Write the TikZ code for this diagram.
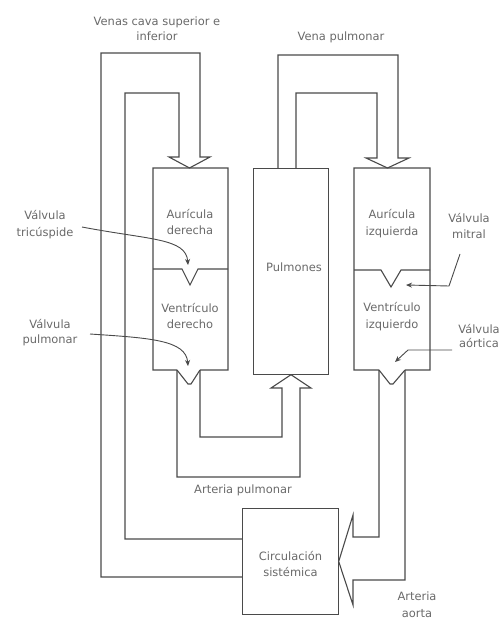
\documentclass[tikz,border=0pt]{standalone}
\usepackage{fontspec}
\setmainfont{DejaVu Sans}
\usetikzlibrary{arrows.meta}
\definecolor{linec}{HTML}{4A4A4A}
\definecolor{txtc}{HTML}{6A6A6A}
\begin{document}
\begin{tikzpicture}[x=1bp,y=-1bp,
  vessel/.style={draw=linec, line width=1.1bp, line join=miter},
  lbl/.style={text=txtc, font=\fontsize{11.5}{17}\selectfont, align=center, inner sep=0pt},
  ptr/.style={draw=linec, line width=0.9bp, -{Stealth[length=6bp,width=5bp]}},
  region/.style={inner sep=0pt, outer sep=0pt, rectangle}
]
\useasboundingbox[fill=white] (0,0) rectangle (501,620);

% ---------- regions (boxes) ----------
\node[region, minimum width=75bp, minimum height=202bp] (rh) at (190.5,269) {};
\node[region, minimum width=76bp, minimum height=202bp] (lh) at (392,269) {};
\node[region, minimum width=75.4bp, minimum height=206.4bp] (pulm) at (291,271.5) {};
\node[region, minimum width=96.4bp, minimum height=106.4bp] (circ) at (290.5,561.5) {};
\draw[vessel] (pulm.south) -- (pulm.south west) -- (pulm.north west) -- (pulm.north east) -- (pulm.south east) -- (pulm.south);
\draw[vessel] (circ.east) -- (circ.north east) -- (circ.north west) -- (circ.south west) -- (circ.south east) -- (circ.east);

% box texts
\node[lbl] (pulmt) at (294,267) {Pulmones};
\node[lbl] (circt) at (290.5,564) {Circulación\\sistémica};
\node[lbl] (rha) at (190,222) {Aurícula\\derecha};
\node[lbl] (rhv) at (190,316) {Ventrículo\\derecho};
\node[lbl] (lha) at (392,224) {Aurícula\\izquierda};
\node[lbl] (lhv) at (392,317) {Ventrículo\\izquierdo};

% ---------- heart outlines ----------
\draw[vessel] (177,370) -- (rh.south west) -- (rh.north west) -- (rh.north east) -- (rh.south east) -- (200,370);
\draw[vessel] (379,370) -- (lh.south west) -- (lh.north west) -- (lh.north east) -- (lh.south east) -- (405,370);
% dividers with valves
\draw[vessel] (153,269) -- (182,269) -- (190,285) -- (198,269) -- (228,269);
\draw[vessel] (354,270) -- (381,270) -- (391,287) -- (401,270) -- (430,270);
% outlet valves
\draw[vessel] (177,370) -- (188,384) -- (191,384) -- (200,370);
\draw[vessel] (379,370) -- (390,384) -- (393,384) -- (405,370);

% ---------- venas cavas into right atrium ----------
\draw[vessel] (circ.west |- 0,577) -- (101,577) -- (101,53) -- (200,53) -- (200,157)
  -- (210,157) -- (rh.north -| 189.5,0) -- (169,157) -- (179,157) -- (179,93) -- (125,93)
  -- (125,539) -- (circ.west |- 0,539);

% ---------- vena pulmonar into left atrium ----------
\draw[vessel] (278,168) -- (278,55) -- (398,55) -- (398,158) -- (409,158)
  -- (lh.north -| 387.5,0) -- (366,158) -- (377,158) -- (377,93) -- (296,93) -- (296,168);

% ---------- arteria pulmonar into lungs ----------
\draw[vessel] (177,370) -- (177,477) -- (300,477) -- (300,388) -- (311,388)
  -- (pulm.south) -- (271,388) -- (282,388) -- (282,437) -- (200,437) -- (200,370);

% ---------- arteria aorta into systemic circulation ----------
\draw[vessel] (379,370) -- (379,537) -- (353,537) -- (353,515) -- (circ.east)
  -- (353,605) -- (353,580) -- (405,580) -- (405,370);

% ---------- labels ----------
\node[lbl] (vcava) at (157,29) {Venas cava superior e\\[-2bp]inferior};
\node[lbl] (vpulm) at (341,37) {Vena pulmonar};
\node[lbl] (apulm) at (243,490) {Arteria pulmonar};
\node[lbl] (aorta) at (417,605) {Arteria\\aorta};
\node[lbl] (vtric) at (45,225) {Válvula\\tricúspide};
\node[lbl] (vpul) at (50,333) {Válvula\\[-2bp]pulmonar};
\node[lbl] (vmit) at (469,226) {Válvula\\mitral};
\node[lbl] (vaor) at (479,336) {Válvula\\[-2bp]aórtica};

% valve pointers
\coordinate (ttric) at (188,265);
\coordinate (tpul) at (188,366);
\coordinate (tmit) at (406,285);
\coordinate (taor) at (395,362);
\draw[ptr] (82,227) .. controls (150,240) and (186,238) .. (ttric);
\draw[ptr] (90,334) .. controls (150,338) and (186,340) .. (tpul);
\draw[ptr] (460,254) -- (449,286) -- (tmit);
\draw[ptr] (452,350) -- (408,350) -- (taor);
\end{tikzpicture}
\end{document}
